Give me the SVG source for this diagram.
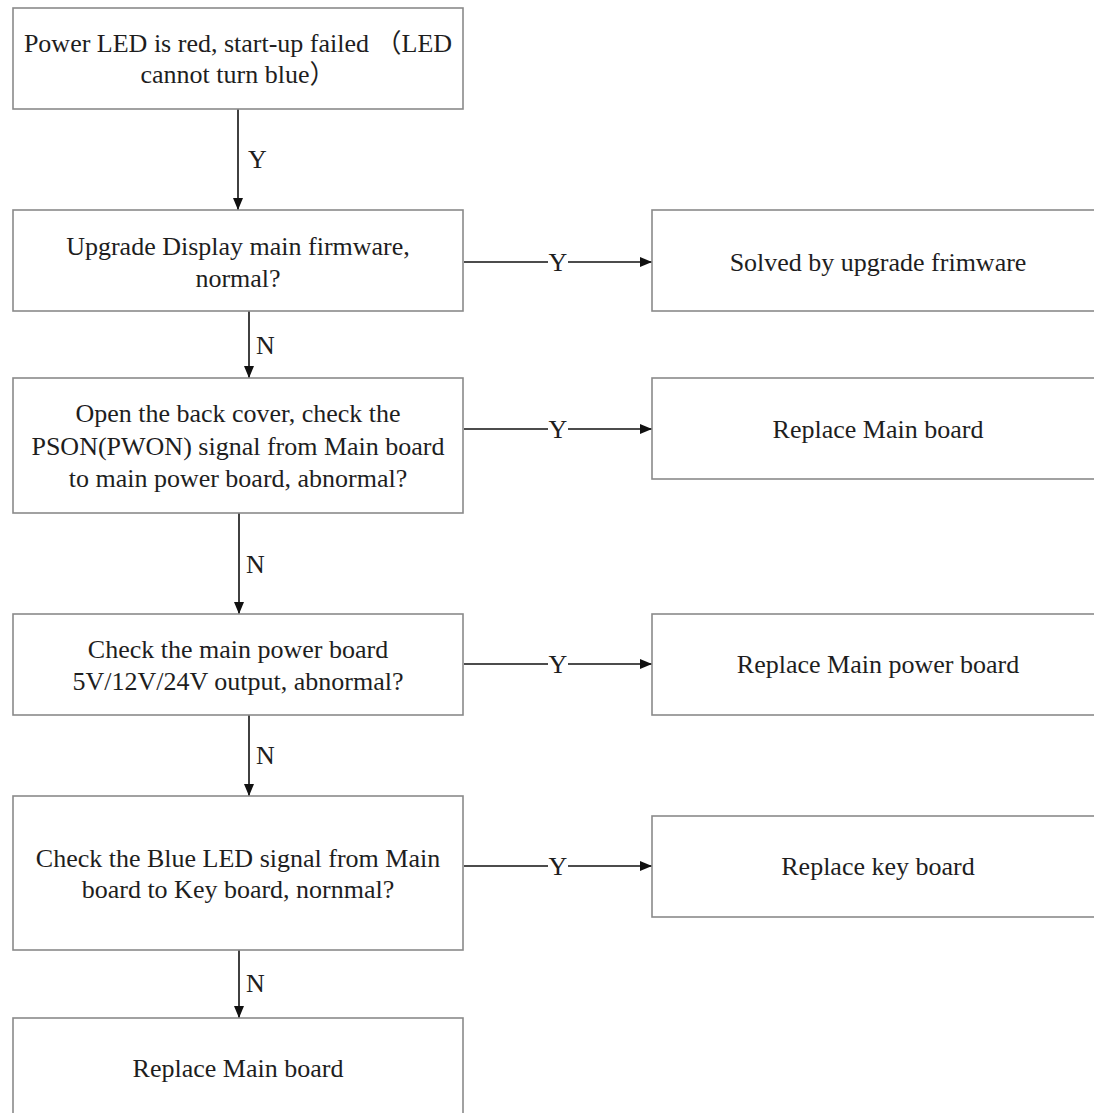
<svg xmlns="http://www.w3.org/2000/svg" width="1094" height="1113" viewBox="0 0 1094 1113">
<defs>
<style>
.box{fill:#fff;stroke:#8a8a8a;stroke-width:1.6}
.t{font-family:"Liberation Serif","DejaVu Serif","Noto Sans CJK SC",serif;font-size:26px;fill:#1e1e1e;text-anchor:middle}
.lbl{font-family:"Liberation Serif","DejaVu Serif",serif;font-size:26px;fill:#1e1e1e}
.c{stroke:#111;stroke-width:1.6;fill:none}
</style>
<marker id="ah" markerWidth="12" markerHeight="12" viewBox="0 0 12 12" refX="12" refY="6" orient="auto" markerUnits="userSpaceOnUse">
<path d="M0,1 L12,6 L0,11 Z" fill="#111"/>
</marker>
</defs>
<rect width="1094" height="1113" fill="#fff"/>
<g id="connectors">
<line class="c" x1="238" y1="109" x2="238" y2="210" marker-end="url(#ah)"/>
<text class="lbl" x="248" y="168">Y</text>
<line class="c" x1="249" y1="311" x2="249" y2="378" marker-end="url(#ah)"/>
<text class="lbl" x="256" y="354">N</text>
<line class="c" x1="239" y1="513" x2="239" y2="614" marker-end="url(#ah)"/>
<text class="lbl" x="246" y="573">N</text>
<line class="c" x1="249" y1="715" x2="249" y2="796" marker-end="url(#ah)"/>
<text class="lbl" x="256" y="764">N</text>
<line class="c" x1="239" y1="950" x2="239" y2="1018" marker-end="url(#ah)"/>
<text class="lbl" x="246" y="992">N</text>
<line class="c" x1="464" y1="262" x2="548" y2="262"/>
<line class="c" x1="568" y1="262" x2="652" y2="262" marker-end="url(#ah)"/>
<text class="t" x="558" y="271">Y</text>
<line class="c" x1="464" y1="429" x2="548" y2="429"/>
<line class="c" x1="568" y1="429" x2="652" y2="429" marker-end="url(#ah)"/>
<text class="t" x="558" y="438">Y</text>
<line class="c" x1="464" y1="664" x2="548" y2="664"/>
<line class="c" x1="568" y1="664" x2="652" y2="664" marker-end="url(#ah)"/>
<text class="t" x="558" y="673">Y</text>
<line class="c" x1="464" y1="866" x2="548" y2="866"/>
<line class="c" x1="568" y1="866" x2="652" y2="866" marker-end="url(#ah)"/>
<text class="t" x="558" y="875">Y</text>
</g>
<g id="n1">
<rect class="box" x="13" y="8" width="450" height="101"/>
<text class="t" x="238" y="52">Power LED is red, start-up failed （LED</text>
<text class="t" x="238" y="83">cannot turn blue）</text>
</g>
<g id="n2">
<rect class="box" x="13" y="210" width="450" height="101"/>
<text class="t" x="238" y="255">Upgrade Display main firmware,</text>
<text class="t" x="238" y="287">normal?</text>
</g>
<g id="n3">
<rect class="box" x="13" y="378" width="450" height="135"/>
<text class="t" x="238" y="422">Open the back cover, check the</text>
<text class="t" x="238" y="455">PSON(PWON) signal from Main board</text>
<text class="t" x="238" y="487">to main power board, abnormal?</text>
</g>
<g id="n4">
<rect class="box" x="13" y="614" width="450" height="101"/>
<text class="t" x="238" y="658">Check the main power board</text>
<text class="t" x="238" y="690">5V/12V/24V output, abnormal?</text>
</g>
<g id="n5">
<rect class="box" x="13" y="796" width="450" height="154"/>
<text class="t" x="238" y="867">Check the Blue LED signal from Main</text>
<text class="t" x="238" y="898">board to Key board, nornmal?</text>
</g>
<g id="n6">
<rect class="box" x="13" y="1018" width="450" height="120"/>
<text class="t" x="238" y="1077">Replace Main board</text>
</g>
<g id="r1">
<rect class="box" x="652" y="210" width="460" height="101"/>
<text class="t" x="878" y="271">Solved by upgrade frimware</text>
</g>
<g id="r2">
<rect class="box" x="652" y="378" width="460" height="101"/>
<text class="t" x="878" y="438">Replace Main board</text>
</g>
<g id="r3">
<rect class="box" x="652" y="614" width="460" height="101"/>
<text class="t" x="878" y="673">Replace Main power board</text>
</g>
<g id="r4">
<rect class="box" x="652" y="816" width="460" height="101"/>
<text class="t" x="878" y="875">Replace key board</text>
</g>
</svg>
